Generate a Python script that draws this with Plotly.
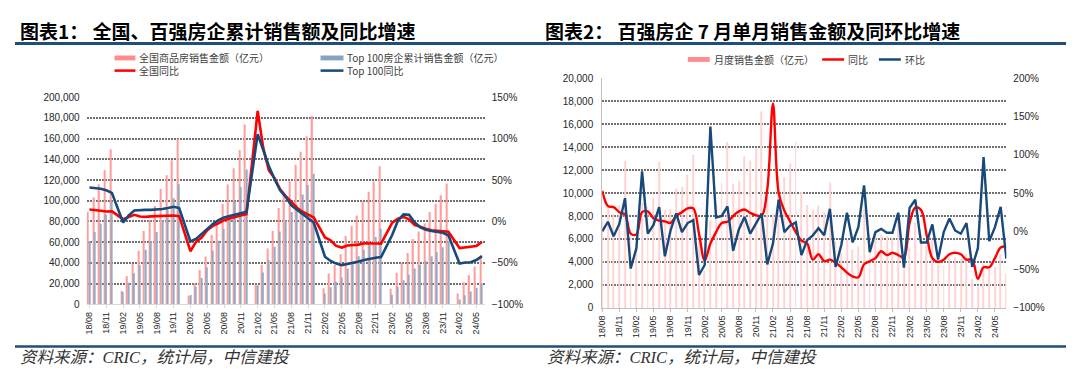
import plotly.graph_objects as go

# page body has an 8px default margin, so the figure is 8px smaller and all
# reference pixel positions are shifted by 8px
OFF = 8
W, H = 1080 - OFF, 380 - OFF


def mlabels(y0, m0, n):
    out, y, m = [], y0, m0
    for _ in range(n):
        out.append(f"{y % 100:02d}/{m:02d}")
        m += 1
        if m > 12:
            m, y = 1, y + 1
    return out


# ---------------- chart 1 data (cumulative, 18/08 - 24/06) ----------------
months1 = mlabels(2018, 8, 71)
tick1 = months1[::3]

nat_cum = [89300, 103300, 116000, 129600, 149800,
           None, 12803, 27039, 38938, 51773, 70698, 81553, 95074, 111477, 124749, 139097, 159725,
           None, 8203, 20365, 33265, 46143, 66895, 78932, 96979, 115647, 131525, 149112, 173613,
           None, 19151, 38232, 53977, 70809, 92931, 106328, 119670, 134795, 147395, 162294, 181930,
           None, 15459, 29655, 37867, 48337, 66072, 75763, 85870, 99380, 108832, 118648, 133308,
           None, 15133, 30545, 39919, 49527, 63092, 70450, 78158, 89070, 97161, 105318, 116622,
           None, 10566, 21355, 28067, 36642, 47133]

top_cum = [61000, 69800, 78100, 86800, 99400,
           None, 11800, 20800, 30100, 37800, 52700, 61100, 69800, 81000, 91000, 102500, 116000,
           None, 9000, 17000, 25400, 35700, 52100, 61400, 72900, 86000, 99200, 113200, 130200,
           None, 18500, 30800, 42800, 55700, 70300, 80700, 89200, 96100, 106000, 115300, 126200,
           None, 10500, 16400, 21700, 26000, 34700, 40300, 46500, 52700, 57400, 65100, 72900,
           None, 9300, 17000, 23300, 28800, 34700, 38100, 41900, 46500, 50500, 55200, 61400,
           None, 4700, 8700, 12400, 16100, 20200]

nat_yoy = [14.5, 13.3, 13.0, 12.1, 12.2,
           None, 2.8, 5.6, 8.1, 6.1, 5.6, 6.2, 6.7, 7.1, 7.3, 7.3, 6.5,
           None, -35.9, -24.7, -19.3, -10.6, -5.4, -2.1, 1.6, 3.7, 5.8, 7.2, 8.7,
           None, 133.4, 88.5, 61.7, 52.4, 38.9, 30.7, 23.2, 16.6, 11.8, 8.0, 4.8,
           None, -19.3, -22.7, -29.5, -31.5, -28.9, -28.8, -27.9, -26.3, -26.1, -26.6, -26.7,
           None, -1.5, 3.5, 5.5, 2.5, -4.3, -6.2, -8.9, -10.5, -10.9, -11.2, -12.4,
           None, -32.0, -31.2, -30.5, -29.5, -24.8]

top_yoy = [41.1, 40.3, 39.5, 37.6, 34.5,
           None, -1.2, 7.4, 13.2, 14.0, 14.0, 14.0, 14.3, 15.1, 16.3, 17.8, 16.3,
           None, -24.0, -21.0, -15.0, -8.9, -3.1, 1.6, 4.7, 6.6, 8.5, 9.5, 11.6,
           None, 105.4, 86.0, 66.7, 51.2, 37.6, 29.8, 19.4, 14.3, 9.3, 3.9, -1.2,
           None, -42.6, -47.7, -50.8, -52.7, -51.2, -50.0, -48.4, -46.5, -45.0, -43.8, -43.0,
           None, -16.0, 1.0, 8.5, 8.0, -1.2, -7.0, -10.0, -11.6, -12.4, -13.6, -16.7,
           None, -50.8, -49.6, -49.2, -46.5, -41.9]

# ---------------- chart 2 data (monthly, 18/08 - 24/07) ----------------
months2 = mlabels(2018, 8, 72)
tick2 = months2[:70:3]

top_month = [7740, 8710, 8150, 8930, 12800,
             6580, 5130, 9150, 8870, 9600, 12700, 8510, 8600, 10400, 10520, 11600, 13300,
             5740, 3210, 7610, 8980, 10900, 14450, 10800, 11100, 13200, 12800, 13900, 17100,
             9670, 8150, 11510, 11400, 12600, 14500, 10100, 8950, 8500, 8900, 8400, 10900,
             5820, 4780, 5940, 5080, 5360, 8580, 6250, 6190, 6390, 6270, 6160, 7660,
             4040, 5270, 7450, 6370, 5440, 5940, 3750, 3720, 4340, 4390, 4250, 4710,
             2520, 1960, 3870, 3370, 3550, 4690, 3020]

month_yoy = [53, 33, 31.5, 25, 22,
             -3, -4, 25, 26, 17, 14, 13, 11, 20, 25, 30, 30,
             -3, -38, -16, -1, 11, 12.5, 20, 26, 28.5, 24, 21, 20,
             55, 167, 50, 27, 13, -1, -12, -16, -37, -30, -39, -37,
             -41, -47, -54, -59, -60, -43, -39, -35, -26, -31, -28, -31,
             -34, 11, 31, 28, -5, -35, -40, -37, -30, -28, -30, -37,
             -37, -62, -47, -47, -35, -21, -20]

month_mom = [0, 12.5, -6.4, 9.6, 43.3,
             -48.6, -22, 78.3, -3.1, 8.3, 31.5, -32.6, 1.1, 23.5, -1, 10.8, 14.6,
             -57, -44, 136.8, 18, 20.1, 32.7, -25.4, 2.4, 18.8, -3.1, 9.6, 23.1,
             -43.1, -15.7, 41.2, -1, 7.5, 11.7, -31, -11.5, -5.2, 4.1, -5.2, 29.4,
             -46.5, -17.8, 24.3, -14.5, 5.4, 60.1, -27.1, -1, 3.2, -1.8, -1.8, 24.3,
             -47.3, 30.6, 41.2, -14.5, -14.5, 9.1, -36.8, -1, 16.7, 1.1, -3.1, 10.8,
             -46.5, -22, 96.8, -12.8, 5.4, 31.9, -35.5]

RED_BAR = "#FF9C9C"
BLUE_BAR = "#93ACC6"
RED = "#FF0000"
BLUE = "#17497A"
RULE = "#1F4E79"
PINK_BAR = "#FFD3D3"
GRID = "#707070"
TXT = "#262626"
TICKFONT = dict(family="Liberation Sans, Arial", size=10, color=TXT)
CJK = "Noto Sans CJK SC"


def px(x):
    return (x - OFF) / W


def py(y):
    return 1 - (y - OFF) / H


fig = go.Figure()

# chart 1
fig.add_trace(go.Bar(x=months1, y=nat_cum, marker=dict(color=RED_BAR, line=dict(width=0)),
                     width=0.22, offset=-0.38, xaxis="x", yaxis="y", showlegend=False))
fig.add_trace(go.Bar(x=months1, y=top_cum, marker=dict(color=BLUE_BAR, line=dict(width=0)),
                     width=0.22, offset=-0.12, xaxis="x", yaxis="y", showlegend=False))
fig.add_trace(go.Scatter(x=months1, y=nat_yoy, mode="lines", connectgaps=True,
                         line=dict(color=RED, width=2.6), xaxis="x", yaxis="y2", showlegend=False))
fig.add_trace(go.Scatter(x=months1, y=top_yoy, mode="lines", connectgaps=True,
                         line=dict(color=BLUE, width=2.6), xaxis="x", yaxis="y2", showlegend=False))

# chart 2
fig.add_trace(go.Bar(x=months2, y=top_month, marker=dict(color=PINK_BAR, line=dict(width=0)),
                     width=0.16, xaxis="x2", yaxis="y3", showlegend=False))
fig.add_trace(go.Scatter(x=months2, y=month_yoy, mode="lines",
                         line=dict(color=RED, width=2.4, shape="spline", smoothing=1.0),
                         xaxis="x2", yaxis="y4", showlegend=False))
fig.add_trace(go.Scatter(x=months2, y=month_mom, mode="lines",
                         line=dict(color=BLUE, width=2.4),
                         xaxis="x2", yaxis="y4", showlegend=False))

xcommon = dict(type="category", tickangle=-90, tickfont=dict(family="Liberation Sans, Arial", size=9, color=TXT),
               showgrid=False, zeroline=False, showline=True, ticks="outside", ticklen=3,
               tickmode="array", fixedrange=True)
ygrid = dict(showgrid=True, gridcolor=GRID, gridwidth=1.5, griddash="2px,1px", zeroline=False,
             tickfont=TICKFONT, ticks="", fixedrange=True)
ynogrid = dict(showgrid=False, zeroline=False, tickfont=TICKFONT, ticks="", fixedrange=True)

fig.update_layout(
    width=W, height=H, margin=dict(l=0, r=0, t=0, b=0),
    paper_bgcolor="white", plot_bgcolor="white", barmode="overlay",
    xaxis=dict(domain=[px(82), px(482)], anchor="y", range=[-0.5, 70.5], tickvals=tick1,
               linecolor="#D9D9D9", tickcolor="#D9D9D9", **xcommon),
    yaxis=dict(domain=[py(308), py(94)], anchor="x", range=[0, 200000], dtick=20000,
               tickformat=",", ticklabelstandoff=6, **ygrid),
    yaxis2=dict(overlaying="y", anchor="x", side="right", range=[-100, 150], dtick=50,
                ticksuffix="%", ticklabelstandoff=6, **ynogrid),
    xaxis2=dict(domain=[px(600), px(1006)], anchor="y3", range=[0, 71], tickvals=tick2,
                linecolor="#BFBFBF", tickcolor="#BFBFBF", **xcommon),
    yaxis3=dict(domain=[py(311.7), py(74.3)], anchor="x2", range=[0, 20000], dtick=2000,
                tickformat=",", showline=True, linecolor="#BFBFBF", ticklabelstandoff=6, **ygrid),
    yaxis4=dict(overlaying="y3", anchor="x2", side="right", range=[-100, 200], dtick=50,
                ticksuffix="%", ticklabelstandoff=6, **ynogrid),
)

shapes = []
annos = []

# rules
shapes.append(dict(type="line", xref="paper", yref="paper", x0=px(10), x1=px(1066),
                   y0=py(38.6), y1=py(38.6), line=dict(color=RULE, width=3)))
shapes.append(dict(type="line", xref="paper", yref="paper", x0=px(10), x1=px(1066),
                   y0=py(351.5), y1=py(351.5), line=dict(color=RULE, width=2.5)))

# titles
for x, t in [(13, "图表1： 全国、百强房企累计销售额及同比增速"),
             (540, "图表2： 百强房企 7 月单月销售金额及同环比增速")]:
    annos.append(dict(xref="paper", yref="paper", x=px(x), y=py(25), xanchor="left", yanchor="middle",
                      text=t, showarrow=False,
                      font=dict(family=CJK, size=19, color="#000000", weight="bold")))

# footers
for x in (13, 542):
    annos.append(dict(xref="paper", yref="paper", x=px(x), y=py(363), xanchor="left", yanchor="middle",
                      text="资料来源：CRIC，统计局，中信建投", showarrow=False,
                      font=dict(family="Liberation Serif, " + CJK, size=16.5, color="#333333",
                                style="italic")))

LEGFONT = dict(family=CJK, size=10, color="#404040")


def leg_rect(x0, x1, y, color, text):
    shapes.append(dict(type="rect", xref="paper", yref="paper", x0=px(x0), x1=px(x1),
                       y0=py(y + 2.5), y1=py(y - 2.5), fillcolor=color, line=dict(width=0)))
    annos.append(dict(xref="paper", yref="paper", x=px(x1 + 2), y=py(y), xanchor="left",
                      yanchor="middle", text=text, showarrow=False, font=LEGFONT))


def leg_line(x0, x1, y, color, text):
    shapes.append(dict(type="line", xref="paper", yref="paper", x0=px(x0), x1=px(x1),
                       y0=py(y), y1=py(y), line=dict(color=color, width=2.5)))
    annos.append(dict(xref="paper", yref="paper", x=px(x1 + 2), y=py(y), xanchor="left",
                      yanchor="middle", text=text, showarrow=False, font=LEGFONT))


leg_rect(110, 131, 53.4, "#FF8C8C", "全国商品房销售金额（亿元）")
leg_rect(317, 340, 53.4, "#87A3BF", "Top 100房企累计销售金额（亿元）")
leg_line(110, 131, 66.5, RED, "全国同比")
leg_line(317, 340, 66.5, BLUE, "Top 100同比")

leg_rect(686, 708, 55, "#FF8C8C", "月度销售金额（亿元）")
leg_line(821, 843, 55, RED, "同比")
leg_line(878, 900, 55, BLUE, "环比")

fig.update_layout(shapes=shapes, annotations=annos)

fig.write_html("out.html")
